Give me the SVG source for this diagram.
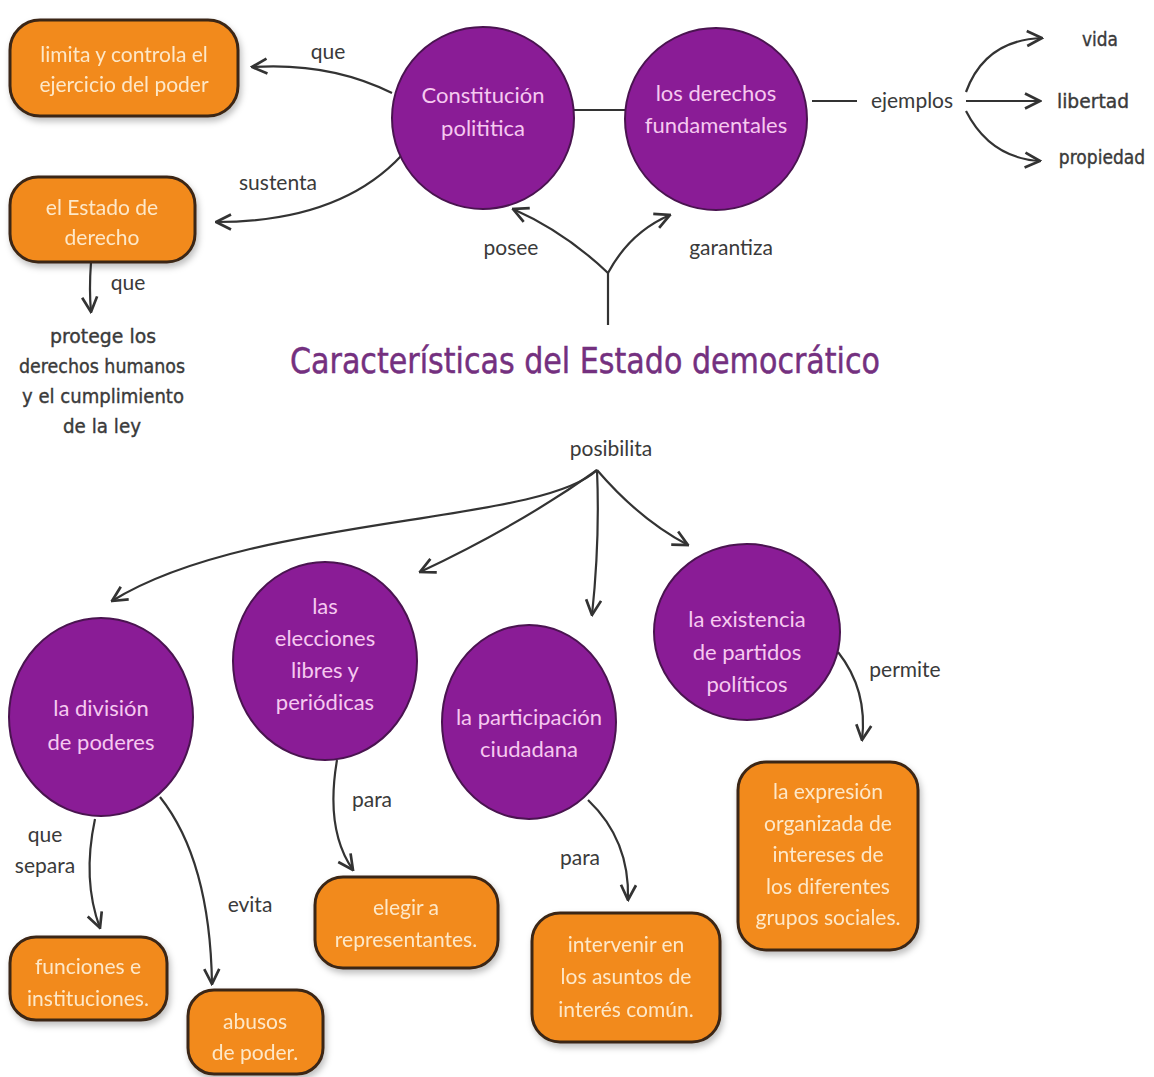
<svg xmlns="http://www.w3.org/2000/svg" width="1154" height="1077" viewBox="0 0 1154 1077">
<style>
.circ{fill:#8a1c96;stroke:#4a1450;stroke-width:2}
.box{fill:#f28a1e;stroke:#3b2614;stroke-width:3}
.ct{font-family:Lato,"Open Sans",sans-serif;font-size:22px;fill:#f6c9f0;text-anchor:middle}
.bt{font-family:Lato,"Open Sans",sans-serif;font-size:21px;fill:#fde8c8;text-anchor:middle}
.lbl{font-family:Lato,"Open Sans",sans-serif;font-size:21px;fill:#3a3a3a;text-anchor:middle}
.cnd{font-family:"DejaVu Sans","Liberation Sans",sans-serif;font-size:20px;fill:#3a3a3a;text-anchor:middle;stroke:#3a3a3a;stroke-width:0.4}
.edge{fill:none;stroke:#333;stroke-width:2.2}
.arr{fill:none;stroke:#333;stroke-width:2.2;marker-end:url(#ah)}
</style>
<defs>
<marker id="ah" viewBox="0 0 12 12" refX="11" refY="6" markerWidth="18" markerHeight="18" markerUnits="userSpaceOnUse" orient="auto">
<path d="M1,1 L11,6 L1,11" fill="none" stroke="#333" stroke-width="1.8"/>
</marker>
<filter id="sh" x="-10%" y="-10%" width="130%" height="140%">
<feDropShadow dx="2" dy="4" stdDeviation="3" flood-color="#000" flood-opacity="0.25"/>
</filter>
</defs>
<rect width="1154" height="1077" fill="#ffffff"/>

<g id="connectors">
<path class="arr" d="M392,93 Q330,62 252,67"/>
<path class="arr" d="M402,155 Q340,222 216,222"/>
<path class="edge" d="M608,325 L608,273"/>
<path class="arr" d="M608,273 Q565,232 513,209"/>
<path class="arr" d="M608,273 Q630,232 670,215"/>
<path class="edge" d="M573,110 L625,110"/>
<path class="edge" d="M812,101 L857,101"/>
<path class="arr" d="M966,92 Q985,40 1042,38"/>
<path class="arr" d="M966,101 L1040,101"/>
<path class="arr" d="M966,111 Q990,158 1040,161"/>
<path class="arr" d="M91,262 Q89,290 91,312"/>
<path class="arr" d="M597,470 C540,525 250,515 112,601"/>
<path class="arr" d="M597,470 Q520,525 420,572"/>
<path class="arr" d="M597,470 Q600,540 592,615"/>
<path class="arr" d="M597,470 Q640,520 688,545"/>
<path class="arr" d="M95,819 Q82,880 100,928"/>
<path class="arr" d="M160,797 Q210,860 212,984"/>
<path class="arr" d="M337,760 Q325,830 353,870"/>
<path class="arr" d="M588,800 Q630,840 628,900"/>
<path class="arr" d="M838,652 Q868,690 862,740"/>
</g>

<g id="labels">
<text class="lbl" x="328" y="59">que</text>
<text class="lbl" x="278" y="190">sustenta</text>
<text class="lbl" x="511" y="255">posee</text>
<text class="lbl" x="731" y="255">garantiza</text>
<text class="lbl" x="912" y="108">ejemplos</text>
<text class="lbl" x="128" y="290">que</text>
<text class="lbl" x="611" y="456">posibilita</text>
<text class="lbl" x="45" y="842">que</text>
<text class="lbl" x="45" y="873">separa</text>
<text class="lbl" x="250" y="912">evita</text>
<text class="lbl" x="372" y="807">para</text>
<text class="lbl" x="580" y="865">para</text>
<text class="lbl" x="905" y="677">permite</text>
</g>

<g id="n-limita" filter="url(#sh)">
<rect class="box" x="10" y="20" width="228" height="96" rx="30"/>
<text class="bt" x="124" y="62">limita y controla el</text>
<text class="bt" x="124" y="92">ejercicio del poder</text>
</g>
<g id="n-estado" filter="url(#sh)">
<rect class="box" x="10" y="177" width="185" height="85" rx="28"/>
<text class="bt" x="102" y="215">el Estado de</text>
<text class="bt" x="102" y="245">derecho</text>
</g>
<g id="n-protege">
<text class="cnd" x="103" y="343" textLength="106" lengthAdjust="spacingAndGlyphs">protege los</text>
<text class="cnd" x="102" y="373" textLength="166" lengthAdjust="spacingAndGlyphs">derechos humanos</text>
<text class="cnd" x="103" y="403" textLength="162" lengthAdjust="spacingAndGlyphs">y el cumplimiento</text>
<text class="cnd" x="102" y="433" textLength="78" lengthAdjust="spacingAndGlyphs">de la ley</text>
</g>
<g id="n-constitucion">
<circle class="circ" cx="483" cy="118" r="91"/>
<text class="ct" x="483" y="103">Constitución</text>
<text class="ct" x="483" y="136">polititica</text>
</g>
<g id="n-derechos">
<circle class="circ" cx="716" cy="119" r="91"/>
<text class="ct" x="716" y="101">los derechos</text>
<text class="ct" x="716" y="133">fundamentales</text>
</g>
<g id="n-vida"><text class="cnd" x="1100" y="46" textLength="36" lengthAdjust="spacingAndGlyphs">vida</text></g>
<g id="n-libertad"><text class="cnd" x="1093" y="108" textLength="72" lengthAdjust="spacingAndGlyphs">libertad</text></g>
<g id="n-propiedad"><text class="cnd" transform="translate(1102,164) scale(0.8,1)" x="0" y="0" textLength="108" lengthAdjust="spacingAndGlyphs">propiedad</text></g>

<g id="n-title">
<text x="585" y="373" textLength="590" lengthAdjust="spacingAndGlyphs" font-family="'DejaVu Sans','Liberation Sans',sans-serif" font-size="36" fill="#74307f" stroke="#74307f" stroke-width="0.5" text-anchor="middle">Características del Estado democrático</text>
</g>

<g id="n-division">
<ellipse class="circ" cx="101" cy="717" rx="92" ry="99"/>
<text class="ct" x="101" y="716">la división</text>
<text class="ct" x="101" y="750">de poderes</text>
</g>
<g id="n-elecciones">
<ellipse class="circ" cx="325" cy="661" rx="92" ry="99"/>
<text class="ct" x="325" y="614">las</text>
<text class="ct" x="325" y="646">elecciones</text>
<text class="ct" x="325" y="678">libres y</text>
<text class="ct" x="325" y="710">periódicas</text>
</g>
<g id="n-participacion">
<ellipse class="circ" cx="529" cy="722" rx="87" ry="97"/>
<text class="ct" x="529" y="725">la participación</text>
<text class="ct" x="529" y="757">ciudadana</text>
</g>
<g id="n-existencia">
<ellipse class="circ" cx="747" cy="632" rx="93" ry="88"/>
<text class="ct" x="747" y="627">la existencia</text>
<text class="ct" x="747" y="660">de partidos</text>
<text class="ct" x="747" y="692">políticos</text>
</g>

<g id="n-funciones" filter="url(#sh)">
<rect class="box" x="10" y="937" width="157" height="83" rx="26"/>
<text class="bt" x="88" y="974">funciones e</text>
<text class="bt" x="88" y="1006">instituciones.</text>
</g>
<g id="n-abusos" filter="url(#sh)">
<rect class="box" x="188" y="990" width="135" height="84" rx="26"/>
<text class="bt" x="255" y="1029">abusos</text>
<text class="bt" x="255" y="1060">de poder.</text>
</g>
<g id="n-elegir" filter="url(#sh)">
<rect class="box" x="315" y="877" width="183" height="91" rx="28"/>
<text class="bt" x="406" y="915">elegir a</text>
<text class="bt" x="406" y="947">representantes.</text>
</g>
<g id="n-intervenir" filter="url(#sh)">
<rect class="box" x="532" y="913" width="188" height="129" rx="28"/>
<text class="bt" x="626" y="952">intervenir en</text>
<text class="bt" x="626" y="984">los asuntos de</text>
<text class="bt" x="626" y="1017">interés común.</text>
</g>
<g id="n-expresion" filter="url(#sh)">
<rect class="box" x="738" y="762" width="180" height="188" rx="28"/>
<text class="bt" x="828" y="799">la expresión</text>
<text class="bt" x="828" y="831">organizada de</text>
<text class="bt" x="828" y="862">intereses de</text>
<text class="bt" x="828" y="894">los diferentes</text>
<text class="bt" x="828" y="925">grupos sociales.</text>
</g>
</svg>
